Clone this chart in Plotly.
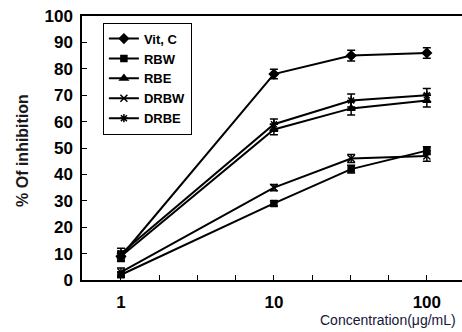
import plotly.graph_objects as go

conc = [1, 10, 32, 100]
series_names = ["Vit, C", "RBW", "RBE", "DRBW", "DRBE"]
vitc = [9, 78, 85, 86]
rbw = [2, 29, 42, 49]
rbe = [9, 57, 65, 68]
drbw = [3, 35, 46, 47]
drbe = [10, 59, 68, 70]
vitc_err = [2, 1.8, 2, 2]
rbw_err = [1, 1, 1.5, 1.5]
rbe_err = [1.5, 2, 2.5, 2.5]
drbw_err = [1.5, 1.2, 1.5, 2]
drbe_err = [2, 2, 2.5, 2.5]

x_tickvals = [1, 1.778, 3.162, 5.623, 10, 17.78, 31.62, 56.23, 100]
x_ticktext = ["1", "", "", "", "10", "", "", "", "100"]
y_tickvals = [0, 10, 20, 30, 40, 50, 60, 70, 80, 90, 100]

symbols = ["diamond", "square", "triangle-up", "x-thin-open", "asterisk-open"]
sizes = [7, 6, 7, 7, 7]
data = [vitc, rbw, rbe, drbw, drbe]
errs = [vitc_err, rbw_err, rbe_err, drbw_err, drbe_err]

fig = go.Figure()
for name, ys, er, sym, sz in zip(series_names, data, errs, symbols, sizes):
    fig.add_trace(go.Scatter(
        x=conc, y=ys, name=name, mode="lines+markers",
        line=dict(color="black", width=2),
        marker=dict(symbol=sym, size=sz, color="black",
                    line=dict(color="black", width=1.5)),
        error_y=dict(type="data", array=er, color="black", thickness=1.5, width=4),
    ))

fam = "Liberation Sans, Arial, sans-serif"
fig.update_layout(
    width=462, height=332,
    margin=dict(l=82, r=0, t=16, b=52),
    paper_bgcolor="white", plot_bgcolor="white",
    showlegend=True,
    legend=dict(x=0.055, y=0.975, xanchor="left", yanchor="top",
                bordercolor="black", borderwidth=1, bgcolor="white",
                font=dict(family=fam, size=13, color="black", weight="bold"),
                tracegroupgap=0, itemwidth=30),
    xaxis=dict(type="log", range=[-0.255, 2.23], tickvals=x_tickvals, ticktext=x_ticktext,
               ticks="inside", ticklen=5, tickwidth=1, tickcolor="black",
               showline=True, linecolor="black", linewidth=1.5, mirror=True,
               showgrid=False, zeroline=False,
               tickfont=dict(family=fam, size=17, color="black", weight="bold"),
               ticklabelstandoff=6),
    yaxis=dict(range=[0, 100], tickvals=y_tickvals,
               ticks="inside", ticklen=5, tickwidth=1, tickcolor="black",
               showline=True, linecolor="black", linewidth=1.5,
               showgrid=False, zeroline=False,
               tickfont=dict(family=fam, size=17, color="black", weight="bold"),
               ticklabelstandoff=4),
    annotations=[
        dict(text="% Of inhibition", xref="paper", yref="paper", x=-0.157, y=0.49,
             xanchor="center", yanchor="middle", textangle=-90, showarrow=False,
             font=dict(family=fam, size=16, color="#1a1a1a", weight="bold")),
        dict(text="Concentration(μg/mL)", xref="paper", yref="paper", x=0.99, y=-0.15,
             xanchor="right", yanchor="middle", showarrow=False,
             font=dict(family=fam, size=14, color="#15153a")),
    ],
)

fig.write_html("out.html")
